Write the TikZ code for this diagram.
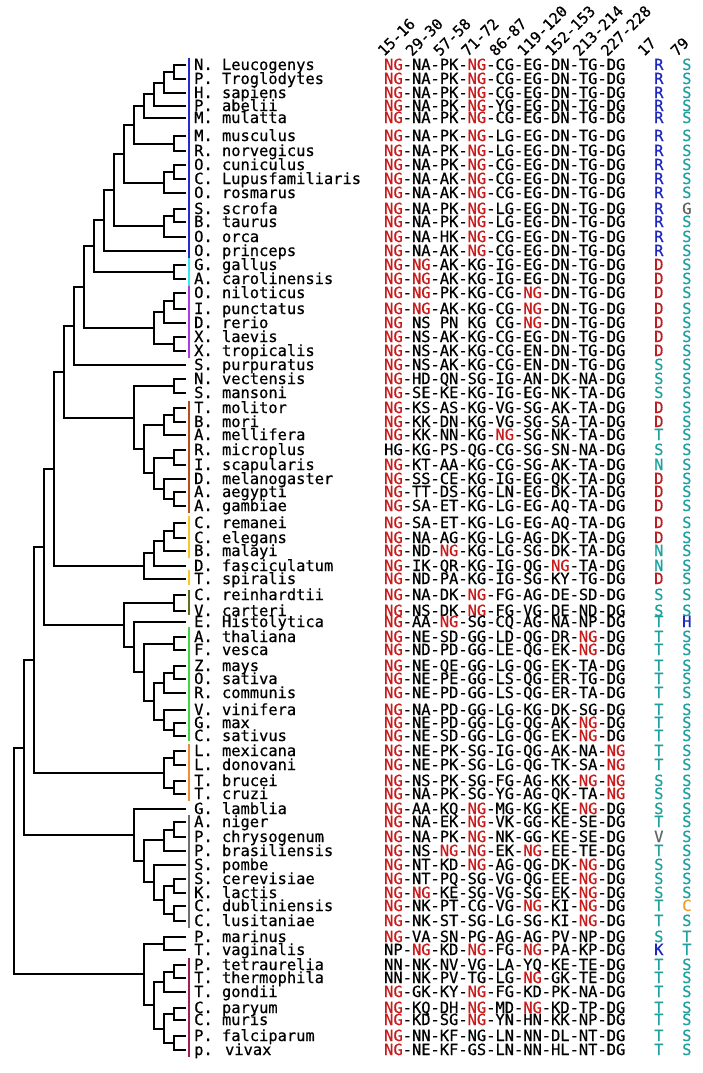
\documentclass[tikz,border=0pt]{standalone}
\usepackage{fontspec}
\newfontfamily\mono{DejaVu Sans Mono}[FakeBold=0.6]
\usetikzlibrary{calc}
\definecolor{ngred}{RGB}{200,28,28}
\definecolor{dred}{RGB}{185,30,35}
\definecolor{teal2}{RGB}{30,160,160}
\definecolor{blueR}{RGB}{30,40,190}
\definecolor{grayV}{RGB}{100,100,100}
\definecolor{orC}{RGB}{240,160,40}
\definecolor{barblue}{RGB}{40,40,210}
\definecolor{barcyan}{RGB}{60,230,240}
\definecolor{barviolet}{RGB}{170,60,230}
\definecolor{barbrown}{RGB}{180,80,30}
\definecolor{baryellow}{RGB}{245,200,40}
\definecolor{barolive}{RGB}{100,110,30}
\definecolor{bargreen}{RGB}{70,210,70}
\definecolor{barorange}{RGB}{240,140,50}
\definecolor{bargray}{RGB}{110,110,110}
\definecolor{barcrimson}{RGB}{160,30,80}
\newcommand{\NGr}{\textcolor{ngred}{NG}}
\newcommand{\colR}{\textcolor{blueR}{R}}
\newcommand{\colD}{\textcolor{dred}{D}}
\newcommand{\colT}{\textcolor{teal2}{T}}
\newcommand{\colS}{\textcolor{teal2}{S}}
\newcommand{\colN}{\textcolor{teal2}{N}}
\newcommand{\colV}{\textcolor{grayV}{V}}
\newcommand{\colK}{\textcolor{blueR}{K}}
\newcommand{\colG}{\textcolor{grayV}{G}}
\newcommand{\colH}{\textcolor{blueR}{H}}
\newcommand{\colC}{\textcolor{orC}{C}}
\tikzset{
  txt/.style={anchor=base west, inner sep=0pt, font=\mono\fontsize{15.4}{15.4}\selectfont},
  hdr/.style={anchor=base west, inner sep=0pt, rotate=45, font=\mono\fontsize{15}{15}\selectfont},
  br/.style={line width=2pt, black},
  bar/.style={line width=2.8pt}
}
\newcommand{\rowx}[6]{%
  \node[txt] (nm#1) at (194,#2+5) {#3};
  \node[txt] (sq#1) at (384,#2+5) {#4};
  \node[txt] (ca#1) at (654,#2+5) {#5};
  \node[txt] (cb#1) at (682,#2+5) {#6};
  \coordinate (L#1) at (186,#2);
}
% join two children at height level #2 (x = 184 - 10*level)
\newcommand{\jn}[4]{%
  \path let \p1=(#3), \p2=(#4) in coordinate (#1) at ({(184-10*#2)*1pt}, {(\y1+\y2)/2});
  \draw[br] (#3) -| (#1) |- (#4);
}
\begin{document}
\begin{tikzpicture}[x=1pt,y=-1pt]
\useasboundingbox[fill=white] (0,0) rectangle (702,1073);
% header
\foreach \t [count=\i from 0] in {15-16,29-30,57-58,71-72,86-87,119-120,152-153,213-214,227-228}{
  \node[hdr] (h\i) at (384+27.9*\i,57) {\t};
}
\node[hdr] (h17) at (644,57) {17};
\node[hdr] (h79) at (677,57) {79};
% rows
\rowx{1}{65}{N. Leucogenys}{\NGr-NA-PK-\NGr-CG-EG-DN-TG-DG}{\colR}{\colS}
\rowx{2}{79}{P. Troglodytes}{\NGr-NA-PK-\NGr-CG-EG-DN-TG-DG}{\colR}{\colS}
\rowx{3}{93}{H. sapiens}{\NGr-NA-PK-\NGr-CG-EG-DN-TG-DG}{\colR}{\colS}
\rowx{4}{106}{P. abelii}{\NGr-NA-PK-\NGr-YG-EG-DN-TG-DG}{\colR}{\colS}
\rowx{5}{118}{M. mulatta}{\NGr-NA-PK-\NGr-CG-EG-DN-TG-DG}{\colR}{\colS}
\rowx{6}{136}{M. musculus}{\NGr-NA-PK-\NGr-LG-EG-DN-TG-DG}{\colR}{\colS}
\rowx{7}{151}{R. norvegicus}{\NGr-NA-PK-\NGr-LG-EG-DN-TG-DG}{\colR}{\colS}
\rowx{8}{165}{O. cuniculus}{\NGr-NA-PK-\NGr-CG-EG-DN-TG-DG}{\colR}{\colS}
\rowx{9}{179}{C. Lupusfamiliaris}{\NGr-NA-AK-\NGr-CG-EG-DN-TG-DG}{\colR}{\colS}
\rowx{10}{193}{O. rosmarus}{\NGr-NA-AK-\NGr-CG-EG-DN-TG-DG}{\colR}{\colS}
\rowx{11}{209}{S. scrofa}{\NGr-NA-PK-\NGr-LG-EG-DN-TG-DG}{\colR}{\colG}
\rowx{12}{222}{B. taurus}{\NGr-NA-PK-\NGr-LG-EG-DN-TG-DG}{\colR}{\colS}
\rowx{13}{237}{O. orca}{\NGr-NA-HK-\NGr-CG-EG-DN-TG-DG}{\colR}{\colS}
\rowx{14}{251}{O. princeps}{\NGr-NA-AK-\NGr-CG-EG-DN-TG-DG}{\colR}{\colS}
\rowx{15}{265}{G. gallus}{\NGr-\NGr-AK-KG-IG-EG-DN-TG-DG}{\colD}{\colS}
\rowx{16}{279}{A. carolinensis}{\NGr-\NGr-AK-KG-IG-EG-DN-TG-DG}{\colD}{\colS}
\rowx{17}{293}{O. niloticus}{\NGr-\NGr-PK-KG-CG-\NGr-DN-TG-DG}{\colD}{\colS}
\rowx{18}{309}{I. punctatus}{\NGr-\NGr-AK-KG-CG-\NGr-DN-TG-DG}{\colD}{\colS}
\rowx{19}{323}{D. rerio}{\NGr\ NS PN KG CG-\NGr-DN-TG-DG}{\colD}{\colS}
\rowx{20}{337}{X. laevis}{\NGr-NS-AK-KG-CG-EG-DN-TG-DG}{\colD}{\colS}
\rowx{21}{351}{X. tropicalis}{\NGr-NS-AK-KG-CG-EN-DN-TG-DG}{\colD}{\colS}
\rowx{22}{365}{S. purpuratus}{\NGr-NS-AK-KG-CG-EN-DN-TG-DG}{\colS}{\colS}
\rowx{23}{379}{N. vectensis}{\NGr-HD-QN-SG-IG-AN-DK-NA-DG}{\colS}{\colS}
\rowx{24}{393}{S. mansoni}{\NGr-SE-KE-KG-IG-EG-NK-TA-DG}{\colS}{\colS}
\rowx{25}{408}{T. molitor}{\NGr-KS-AS-KG-VG-SG-AK-TA-DG}{\colD}{\colS}
\rowx{26}{422}{B. mori}{\NGr-KK-DN-KG-VG-SG-SA-TA-DG}{\colD}{\colS}
\rowx{27}{435}{A. mellifera}{\NGr-KK-NN-KG-\NGr-SG-NK-TA-DG}{\colT}{\colS}
\rowx{28}{450}{R. microplus}{HG-KG-PS-QG-CG-SG-SN-NA-DG}{\colS}{\colS}
\rowx{29}{465}{I. scapularis}{\NGr-KT-AA-KG-CG-SG-AK-TA-DG}{\colN}{\colS}
\rowx{30}{479}{D. melanogaster}{\NGr-SS-CE-KG-IG-EG-QK-TA-DG}{\colD}{\colS}
\rowx{31}{492}{A. aegypti}{\NGr-TT-DS-KG-LN-EG-DK-TA-DG}{\colD}{\colS}
\rowx{32}{506}{A. gambiae}{\NGr-SA-ET-KG-LG-EG-AQ-TA-DG}{\colD}{\colS}
\rowx{33}{523}{C. remanei}{\NGr-SA-ET-KG-LG-EG-AQ-TA-DG}{\colD}{\colS}
\rowx{34}{538}{C. elegans}{\NGr-NA-AG-KG-LG-AG-DK-TA-DG}{\colD}{\colS}
\rowx{35}{551}{B. malayi}{\NGr-ND-\NGr-KG-LG-SG-DK-TA-DG}{\colN}{\colS}
\rowx{36}{566}{D. fasciculatum}{\NGr-IK-QR-KG-IG-QG-\NGr-TA-DG}{\colN}{\colS}
\rowx{37}{579}{T. spiralis}{\NGr-ND-PA-KG-IG-SG-KY-TG-DG}{\colD}{\colS}
\rowx{38}{595}{C. reinhardtii}{\NGr-NA-DK-\NGr-FG-AG-DE-SD-DG}{\colS}{\colS}
\rowx{39}{611}{V. carteri}{\NGr-NS-DK-\NGr-FG-VG-DE-ND-DG}{\colS}{\colS}
\rowx{40}{622}{E. Histolytica}{\NGr-AA-\NGr-SG-CQ-AG-NA-NP-DG}{\colT}{\colH}
\rowx{41}{637}{A. thaliana}{\NGr-NE-SD-GG-LD-QG-DR-\NGr-DG}{\colT}{\colS}
\rowx{42}{650}{F. vesca}{\NGr-ND-PD-GG-LE-QG-EK-\NGr-DG}{\colT}{\colS}
\rowx{43}{666}{Z. mays}{\NGr-NE-QE-GG-LG-QG-EK-TA-DG}{\colT}{\colS}
\rowx{44}{679}{O. sativa}{\NGr-NE-PE-GG-LS-QG-ER-TG-DG}{\colT}{\colS}
\rowx{45}{693}{R. communis}{\NGr-NE-PD-GG-LS-QG-ER-TA-DG}{\colT}{\colS}
\rowx{46}{710}{V. vinifera}{\NGr-NA-PD-GG-LG-KG-DK-SG-DG}{\colT}{\colS}
\rowx{47}{723}{G. max}{\NGr-NE-PD-GG-LG-QG-AK-\NGr-DG}{\colT}{\colS}
\rowx{48}{736}{C. sativus}{\NGr-NE-SD-GG-LG-QG-EK-\NGr-DG}{\colT}{\colS}
\rowx{49}{751}{L. mexicana}{\NGr-NE-PK-SG-IG-QG-AK-NA-\NGr}{\colT}{\colS}
\rowx{50}{765}{L. donovani}{\NGr-NE-PK-SG-LG-QG-TK-SA-\NGr}{\colT}{\colS}
\rowx{51}{781}{T. brucei}{\NGr-NS-PK-SG-FG-AG-KK-\NGr-\NGr}{\colS}{\colS}
\rowx{52}{794}{T. cruzi}{\NGr-NA-PK-SG-YG-AG-QK-TA-\NGr}{\colS}{\colS}
\rowx{53}{809}{G. lamblia}{\NGr-AA-KQ-\NGr-MG-KG-KE-\NGr-DG}{\colS}{\colS}
\rowx{54}{822}{A. niger}{\NGr-NA-EK-\NGr-VK-GG-KE-SE-DG}{\colT}{\colS}
\rowx{55}{837}{P. chrysogenum}{\NGr-NA-PK-\NGr-NK-GG-KE-SE-DG}{\colV}{\colS}
\rowx{56}{851}{P. brasiliensis}{\NGr-NS-\NGr-\NGr-EK-\NGr-EE-TE-DG}{\colT}{\colS}
\rowx{57}{865}{S. pombe}{\NGr-NT-KD-\NGr-AG-QG-DK-\NGr-DG}{\colS}{\colS}
\rowx{58}{879}{S. cerevisiae}{\NGr-NT-PQ-SG-VG-QG-EE-\NGr-DG}{\colS}{\colS}
\rowx{59}{893}{K. lactis}{\NGr-\NGr-KE-SG-VG-SG-EK-\NGr-DG}{\colS}{\colS}
\rowx{60}{906}{C. dubliniensis}{\NGr-NK-PT-CG-VG-\NGr-KI-\NGr-DG}{\colT}{\colC}
\rowx{61}{921}{C. lusitaniae}{\NGr-NK-ST-SG-LG-SG-KI-\NGr-DG}{\colT}{\colS}
\rowx{62}{937}{P. marinus}{\NGr-VA-SN-PG-AG-AG-PV-NP-DG}{\colS}{\colT}
\rowx{63}{950}{T. vaginalis}{NP-\NGr-KD-\NGr-FG-\NGr-PA-KP-DG}{\colK}{\colT}
\rowx{64}{965}{P. tetraurelia}{NN-NK-NV-VG-LA-YQ-KE-TE-DG}{\colT}{\colS}
\rowx{65}{978}{T. thermophila}{NN-NK-PV-TG-LG-\NGr-GK-TE-DG}{\colT}{\colS}
\rowx{66}{992}{T. gondii}{\NGr-GK-KY-\NGr-FG-KD-PK-NA-DG}{\colT}{\colS}
\rowx{67}{1008}{C. paryum}{\NGr-KQ-DH-\NGr-MD-\NGr-KD-TP-DG}{\colT}{\colS}
\rowx{68}{1020}{C. muris}{\NGr-KD-SG-\NGr-YN-HN-KK-NP-DG}{\colT}{\colS}
\rowx{69}{1036}{P. falciparum}{\NGr-NN-KF-NG-LN-NN-DL-NT-DG}{\colT}{\colS}
\rowx{70}{1050}{p. vivax}{\NGr-NE-KF-GS-LN-NN-HL-NT-DG}{\colT}{\colS}
% clade bars
\draw[bar,barblue] (189,58) -- (189,258);
\draw[bar,barcyan] (189,258) -- (189,286);
\draw[bar,barviolet] (189,286) -- (189,358);
\draw[bar,barbrown] (189,401) -- (189,513);
\draw[bar,baryellow] (189,516) -- (189,558);
\draw[bar,baryellow] (189,570) -- (189,585);
\draw[bar,barolive] (189,590) -- (189,615);
\draw[bar,bargreen] (189,627) -- (189,741);
\draw[bar,barorange] (189,744) -- (189,801);
\draw[line width=2pt,bargray] (189,815) -- (189,928);
\draw[bar,barcrimson] (189,958) -- (189,1057);
% tree (second argument: height level)
\jn{a1}{1}{L1}{L2}
\jn{a2}{2}{a1}{L3}
\jn{a3}{3}{a2}{L4}
\jn{a4}{4}{a3}{L5}
\jn{a5}{1}{L6}{L7}
\jn{a6}{5}{a4}{a5}
\jn{a7}{1}{L8}{L9}
\jn{a8}{2}{a7}{L10}
\jn{a9}{6}{a6}{a8}
\jn{a10}{1}{L11}{L12}
\jn{a11}{2}{a10}{L13}
\jn{a12}{7}{a9}{a11}
\jn{a13}{8}{a12}{L14}
\jn{b1}{1}{L15}{L16}
\jn{a14}{9}{a13}{b1}
\jn{c1}{1}{L17}{L18}
\jn{c2}{2}{c1}{L19}
\jn{c3}{1}{L20}{L21}
\jn{c4}{3}{c2}{c3}
\jn{a15}{10}{a14}{c4}
\jn{a16}{11}{a15}{L22}
\jn{d1}{1}{L23}{L24}
\jn{e1}{1}{L25}{L26}
\jn{e2}{2}{e1}{L27}
\jn{e3}{1}{L28}{L29}
\jn{e4}{1}{L31}{L32}
\jn{e5}{2}{L30}{e4}
\jn{e6}{3}{e3}{e5}
\jn{e7}{4}{e2}{e6}
\jn{d2}{5}{d1}{e7}
\jn{G1}{12}{a16}{d2}
\jn{f1}{1}{L33}{L34}
\jn{f2}{2}{f1}{L35}
\jn{f3}{3}{f2}{L36}
\jn{f4}{4}{f3}{L37}
\jn{G2}{13}{G1}{f4}
\jn{h1}{1}{L38}{L39}
\jn{p1}{1}{L41}{L42}
\jn{p2}{1}{L43}{L44}
\jn{p3}{2}{p2}{L45}
\jn{p4}{1}{L47}{L48}
\jn{p5}{2}{L46}{p4}
\jn{p6}{3}{p3}{p5}
\jn{p7}{4}{p1}{p6}
\jn{y1}{5}{L40}{p7}
\jn{h3}{6}{h1}{y1}
\jn{t1}{14}{G2}{h3}
\jn{k1}{1}{L49}{L50}
\jn{k2}{1}{L51}{L52}
\jn{k3}{2}{k1}{k2}
\jn{t2}{15}{t1}{k3}
\jn{q1}{1}{L54}{L55}
\jn{q2}{2}{q1}{L56}
\jn{q3}{1}{L58}{L59}
\jn{q4}{1}{L60}{L61}
\jn{q5}{2}{q3}{q4}
\jn{q6}{3}{L57}{q5}
\jn{q7}{4}{q2}{q6}
\jn{q8}{5}{L53}{q7}
\jn{t3}{16}{t2}{q8}
\jn{r1}{2}{L62}{L63}
\jn{s1}{1}{L64}{L65}
\jn{s2}{2}{s1}{L66}
\jn{s3}{1}{L67}{L68}
\jn{s4}{1}{L69}{L70}
\jn{s5}{2}{s3}{s4}
\jn{s6}{3}{s2}{s5}
\jn{r2}{4}{r1}{s6}
\jn{root}{17}{t3}{r2}
\end{tikzpicture}
\end{document}
